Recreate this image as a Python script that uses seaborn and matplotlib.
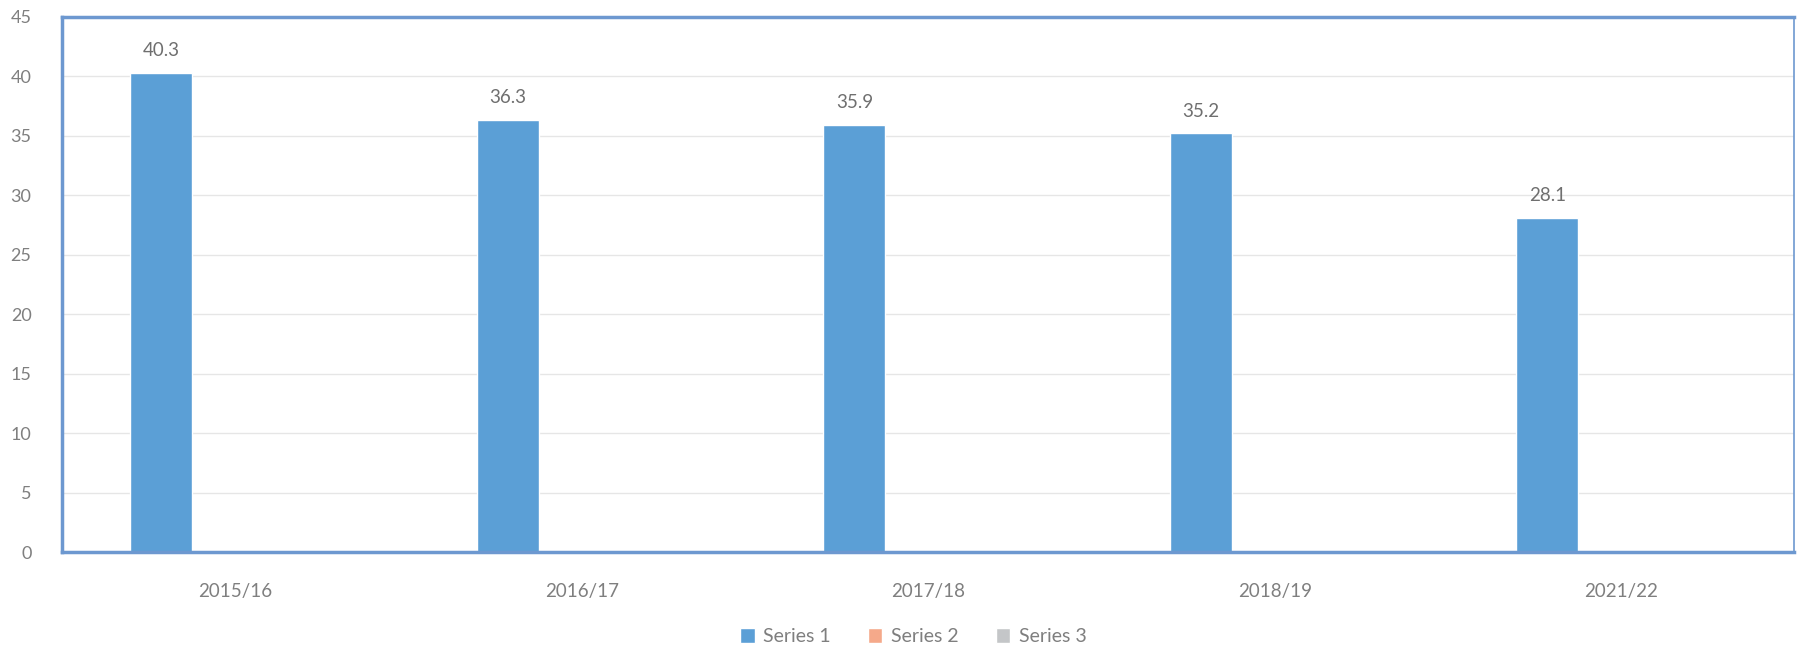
import pandas as pd
import seaborn as sns
import matplotlib.pyplot as plt

seasons = ["2015/16", "2016/17", "2017/18", "2018/19", "2021/22"]
series_names = ["Series 1", "Series 2", "Series 3"]
series1 = [40.3, 36.3, 35.9, 35.2, 28.1]
series2 = [0, 0, 0, 0, 0]
series3 = [0, 0, 0, 0, 0]
y_ticks = [0, 5, 10, 15, 20, 25, 30, 35, 40, 45]

colors = ["#5b9fd6", "#f5a98a", "#c4c6c8"]
text_grey = "#7f7f7f"
frame_blue = "#6d98d0"

df = pd.DataFrame({
    "season": seasons * 3,
    "series": [s for s in series_names for _ in seasons],
    "value": series1 + series2 + series3,
})

sns.set_theme(style="white")
plt.rcParams["font.family"] = ["Lato", "DejaVu Sans"]

fig = plt.figure(figsize=(17.98, 6.51), dpi=100)
ax = fig.add_axes([0.0345, 0.152, 0.9635, 0.822])

sns.barplot(data=df, x="season", y="value", hue="series", palette=colors,
            width=0.64, gap=0.16, saturation=1, ax=ax, legend=True)

# data labels for series 1 only
for cont, name in zip(ax.containers, series_names):
    if name == "Series 1":
        ax.bar_label(cont, fmt="%.1f", padding=10, fontsize=13.5, color="#6f6f6f")

ax.set_ylim(0, 45)
ax.set_yticks(y_ticks)
ax.set_xlim(-0.5, len(seasons) - 0.5)
ax.yaxis.grid(True, color="#e6e6e6", linewidth=1)
ax.set_axisbelow(True)
ax.set_xlabel("")
ax.set_ylabel("")
ax.tick_params(axis="y", length=0, pad=22, labelsize=13, labelcolor=text_grey)
ax.tick_params(axis="x", length=0, pad=22, labelsize=13.5, labelcolor=text_grey)

for side in ["left", "right", "top", "bottom"]:
    ax.spines[side].set_visible(True)
    ax.spines[side].set_color(frame_blue)
    ax.spines[side].set_linewidth(2.5)
ax.spines["right"].set_linewidth(1.2)

handles, labels = ax.get_legend_handles_labels()
ax.legend_.remove()
fig.legend(handles, labels, loc="lower center", bbox_to_anchor=(0.508, -0.018),
           ncol=3, frameon=False, fontsize=14, labelcolor=text_grey,
           handlelength=0.75, handleheight=0.75, handletextpad=0.45, columnspacing=1.9)

fig.savefig("out.png", dpi=100)
